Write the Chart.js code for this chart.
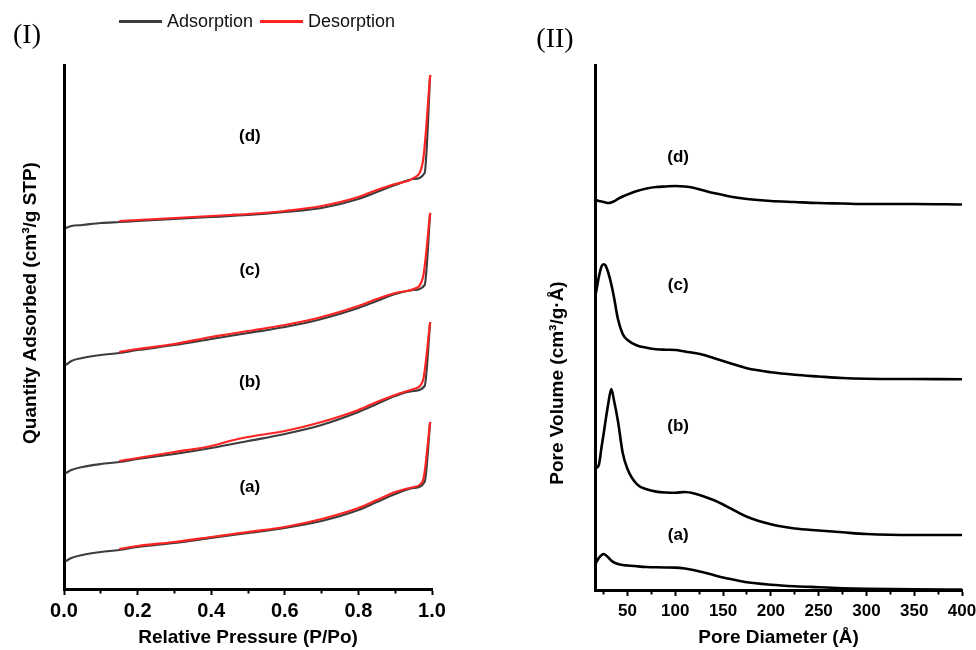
<!DOCTYPE html>
<html>
<head>
<meta charset="utf-8">
<script src="https://cdn.jsdelivr.net/npm/chart.js@4.4.1/dist/chart.umd.min.js"></script>
<style>
  html, body { margin: 0; padding: 0; background: #fff; }
  #wrap { position: relative; width: 976px; height: 650px; overflow: hidden; background: #fff; }
  canvas { position: absolute; top: 0; }
  #c1 { left: 0; }
  #c2 { left: 480px; }
</style>
</head>
<body>
<div id="wrap">
  <canvas id="c1" width="480" height="650"></canvas>
  <canvas id="c2" width="496" height="650"></canvas>
</div>
<script>
// ---------------- DATA ----------------
const sampleNames = ['(a)', '(b)', '(c)', '(d)'];
const seriesNames = ['Adsorption', 'Desorption'];

// Panel (I): N2 isotherms (offset, arbitrary units)
const pressureAds = [0.005, 0.02, 0.05, 0.1, 0.15, 0.2, 0.3, 0.4, 0.5, 0.6, 0.7, 0.8, 0.85, 0.9, 0.95, 0.98, 0.995];
const adsA = [5.34, 5.92, 6.49, 7.06, 7.44, 8.02, 8.78, 9.73, 10.69, 11.64, 12.98, 15.08, 16.60, 18.13, 19.27, 20.42, 31.87];
const adsB = [22.14, 22.71, 23.28, 23.85, 24.24, 24.81, 25.76, 26.91, 28.24, 29.58, 31.30, 33.78, 35.31, 36.83, 37.79, 38.74, 50.95];
const adsC = [42.75, 43.51, 44.08, 44.66, 45.04, 45.61, 46.56, 47.71, 48.85, 50.00, 51.53, 53.63, 54.96, 56.30, 57.06, 58.02, 71.76];
const adsD = [68.89, 69.27, 69.47, 69.85, 70.04, 70.23, 70.61, 70.99, 71.37, 71.95, 72.71, 74.43, 75.76, 77.10, 78.24, 79.39, 98.09];

const pressureDes = [0.995, 0.975, 0.95, 0.9, 0.85, 0.8, 0.7, 0.6, 0.5, 0.45, 0.4, 0.3, 0.2, 0.15];
const desA = [31.87, 20.61, 19.47, 18.51, 16.98, 15.46, 13.36, 11.83, 10.88, 10.40, 9.92, 8.97, 8.21, 7.63];
const desB = [50.95, 39.69, 38.17, 37.02, 35.69, 34.16, 31.87, 30.15, 29.01, 28.24, 27.29, 26.15, 25.00, 24.43];
const desC = [71.76, 59.35, 57.25, 56.49, 55.34, 54.01, 51.91, 50.38, 49.24, 48.66, 48.09, 46.76, 45.80, 45.23];
const desD = [98.09, 81.49, 78.44, 77.29, 76.15, 74.81, 73.09, 72.14, 71.56, 71.37, 71.18, 70.80, 70.42, 70.23];

// Panel (II): pore size distributions (offset, arbitrary units)
const diameters = [17, 20, 23, 25, 27, 30, 33, 36, 40, 45, 50, 60, 70, 80, 90, 100, 110, 120, 130, 140, 150, 160, 175, 200, 225, 250, 275, 300, 350, 400];
const poreA = [5.14, 6.10, 6.67, 6.86, 6.67, 6.19, 5.62, 5.24, 4.95, 4.76, 4.67, 4.51, 4.38, 4.32, 4.29, 4.27, 4.10, 3.77, 3.33, 2.86, 2.38, 2.00, 1.47, 1.01, 0.72, 0.53, 0.34, 0.23, 0.13, 0.10];
const poreB = [23.24, 23.81, 27.43, 29.71, 32.19, 35.62, 38.29, 36.00, 32.19, 26.10, 23.05, 20.10, 19.20, 18.74, 18.57, 18.53, 18.67, 18.38, 17.81, 17.14, 16.29, 15.33, 13.96, 12.53, 11.71, 11.33, 10.99, 10.67, 10.48, 10.48];
const poreC = [56.57, 59.62, 61.71, 62.04, 61.81, 60.38, 58.29, 55.62, 51.62, 48.76, 47.62, 46.57, 46.15, 45.87, 45.77, 45.71, 45.43, 45.14, 44.76, 44.19, 43.62, 43.05, 42.23, 41.47, 40.99, 40.67, 40.38, 40.25, 40.19, 40.13];
const poreD = [74.29, 74.10, 74.00, 73.90, 73.81, 73.71, 73.81, 74.05, 74.48, 74.95, 75.33, 76.00, 76.48, 76.76, 76.86, 76.95, 76.86, 76.57, 76.10, 75.62, 75.24, 74.86, 74.48, 74.10, 73.90, 73.71, 73.62, 73.52, 73.52, 73.43];

// Tick values
const pressureTicks = [0, 0.1, 0.2, 0.3, 0.4, 0.5, 0.6, 0.7, 0.8, 0.9, 1.0];
const diameterTicks = [25, 50, 75, 100, 125, 150, 175, 200, 225, 250, 275, 300, 325, 350, 375, 400];

// ---------------- STYLE / LAYOUT ----------------
const FONT = "'Liberation Sans', Arial, Helvetica, sans-serif";
const SERIF = "'Liberation Serif', 'Times New Roman', serif";
const ADS_COLOR = '#3d3d3d';
const DES_COLOR = '#ff2424';

// label anchors (data coordinates)
const leftLabelAnchor = { x: 0.505, y: [19.5, 39.5, 60.9, 86.3] };
const rightLabelAnchor = { x: 103, y: [10.5, 31.2, 58.1, 82.5] };

function xy(xs, ys) { return xs.map((x, i) => ({ x: x, y: ys[i] })); }

const adsSeries = [adsA, adsB, adsC, adsD];
const desSeries = [desA, desB, desC, desD];
const poreSeries = [poreA, poreB, poreC, poreD];

const leftDatasets = [];
adsSeries.forEach((s, i) => leftDatasets.push({
  label: seriesNames[0] + ' ' + sampleNames[i], data: xy(pressureAds, s),
  borderColor: ADS_COLOR, borderWidth: 2.2, pointRadius: 0, fill: false,
  cubicInterpolationMode: 'monotone', order: 1
}));
desSeries.forEach((s, i) => leftDatasets.push({
  label: seriesNames[1] + ' ' + sampleNames[i], data: xy(pressureDes, s),
  borderColor: DES_COLOR, borderWidth: 2.2, pointRadius: 0, fill: false,
  cubicInterpolationMode: 'monotone', order: 0
}));

const rightDatasets = poreSeries.map((s, i) => ({
  label: sampleNames[i], data: xy(diameters, s),
  borderColor: '#000', borderWidth: 2.6, pointRadius: 0, fill: false,
  cubicInterpolationMode: 'monotone'
}));

function xAxis(min, max, tickVals, isMajor, fmt, fontSize, pad, height, title) {
  return {
    type: 'linear', min: min, max: max,
    afterBuildTicks: s => { s.ticks = tickVals.map(v => ({ value: v })); },
    afterFit: s => { s.height = height; s.paddingLeft = 0; s.paddingRight = 0; },
    ticks: {
      autoSkip: false, maxRotation: 0, minRotation: 0, padding: pad, color: '#000',
      font: { family: FONT, size: fontSize, weight: 'bold' },
      callback: (v) => isMajor(v) ? fmt(v) : ''
    },
    grid: {
      display: true, drawOnChartArea: false, drawTicks: true, tickLength: 6,
      tickColor: '#000', tickWidth: 2,
      tickBorderDash: (c) => (c.tick && isMajor(c.tick.value)) ? [] : [2.5, 20]
    },
    border: { display: true, color: '#000', width: 3 },
    title: {
      display: true, text: title, color: '#000',
      font: { family: FONT, size: 19, weight: 'bold' }, padding: { top: 0, bottom: 1 }
    }
  };
}

function yAxis(width) {
  return {
    type: 'linear', min: 0, max: 100,
    afterFit: s => { s.width = width; s.paddingTop = 0; s.paddingBottom = 0; },
    ticks: { display: false },
    grid: { display: false },
    border: { display: true, color: '#000', width: 3 }
  };
}

function textPlugin(id, opts) {
  return {
    id: id,
    afterDraw(chart) {
      const ctx = chart.ctx;
      const xs = chart.scales.x, ys = chart.scales.y;
      ctx.save();
      // panel label
      ctx.fillStyle = '#000';
      ctx.font = '28px ' + SERIF;
      ctx.textAlign = 'center'; ctx.textBaseline = 'middle';
      ctx.fillText(opts.panel, opts.panelPos[0], opts.panelPos[1]);
      // rotated y title
      ctx.save();
      ctx.translate(opts.yTitlePos[0], opts.yTitlePos[1]);
      ctx.rotate(-Math.PI / 2);
      ctx.font = 'bold 19px ' + FONT;
      ctx.fillText(opts.yTitle, 0, 0);
      ctx.restore();
      // sample labels
      ctx.font = 'bold 17px ' + FONT;
      sampleNames.forEach((n, i) => {
        ctx.fillText(n, xs.getPixelForValue(opts.anchor.x), ys.getPixelForValue(opts.anchor.y[i]));
      });
      // legend
      if (opts.legend) {
        ctx.font = '18px ' + FONT;
        ctx.textAlign = 'left';
        let x = 119; const y = 21.5;
        const items = [{ t: seriesNames[0], c: ADS_COLOR }, { t: seriesNames[1], c: DES_COLOR }];
        items.forEach(it => {
          ctx.strokeStyle = it.c; ctx.lineWidth = 3;
          ctx.beginPath(); ctx.moveTo(x, y); ctx.lineTo(x + 43, y); ctx.stroke();
          ctx.fillStyle = '#111';
          ctx.fillText(it.t, x + 48, y + 1);
          x += 48 + ctx.measureText(it.t).width + 7;
        });
      }
      ctx.restore();
    }
  };
}

const common = {
  responsive: false, animation: false, devicePixelRatio: 1,
  plugins: { legend: { display: false }, tooltip: { enabled: false } }
};

new Chart(document.getElementById('c1'), {
  type: 'line',
  data: { datasets: leftDatasets },
  options: Object.assign({}, common, {
    layout: { padding: { top: 65, right: 48, bottom: 0, left: 0 } },
    scales: {
      x: xAxis(0, 1, pressureTicks, v => Math.round(v * 10) % 2 === 0, v => v.toFixed(1), 20, 4, 61, 'Relative Pressure (P/Po)'),
      y: yAxis(64)
    }
  }),
  plugins: [textPlugin('leftText', {
    panel: '(I)', panelPos: [27, 36],
    yTitle: 'Quantity Adsorbed (cm³/g STP)', yTitlePos: [31, 303],
    anchor: leftLabelAnchor, legend: true
  })]
});

new Chart(document.getElementById('c2'), {
  type: 'line',
  data: { datasets: rightDatasets },
  options: Object.assign({}, common, {
    layout: { padding: { top: 65, right: 14, bottom: 0, left: 0 } },
    scales: {
      x: xAxis(16, 400, diameterTicks, v => v % 50 === 0, v => String(v), 17, 5, 60, 'Pore Diameter (Å)'),
      y: yAxis(115)
    }
  }),
  plugins: [textPlugin('rightText', {
    panel: '(II)', panelPos: [75, 40],
    yTitle: 'Pore Volume (cm³/g·Å)', yTitlePos: [78, 383],
    anchor: rightLabelAnchor, legend: false
  })]
});
</script>
</body>
</html>
